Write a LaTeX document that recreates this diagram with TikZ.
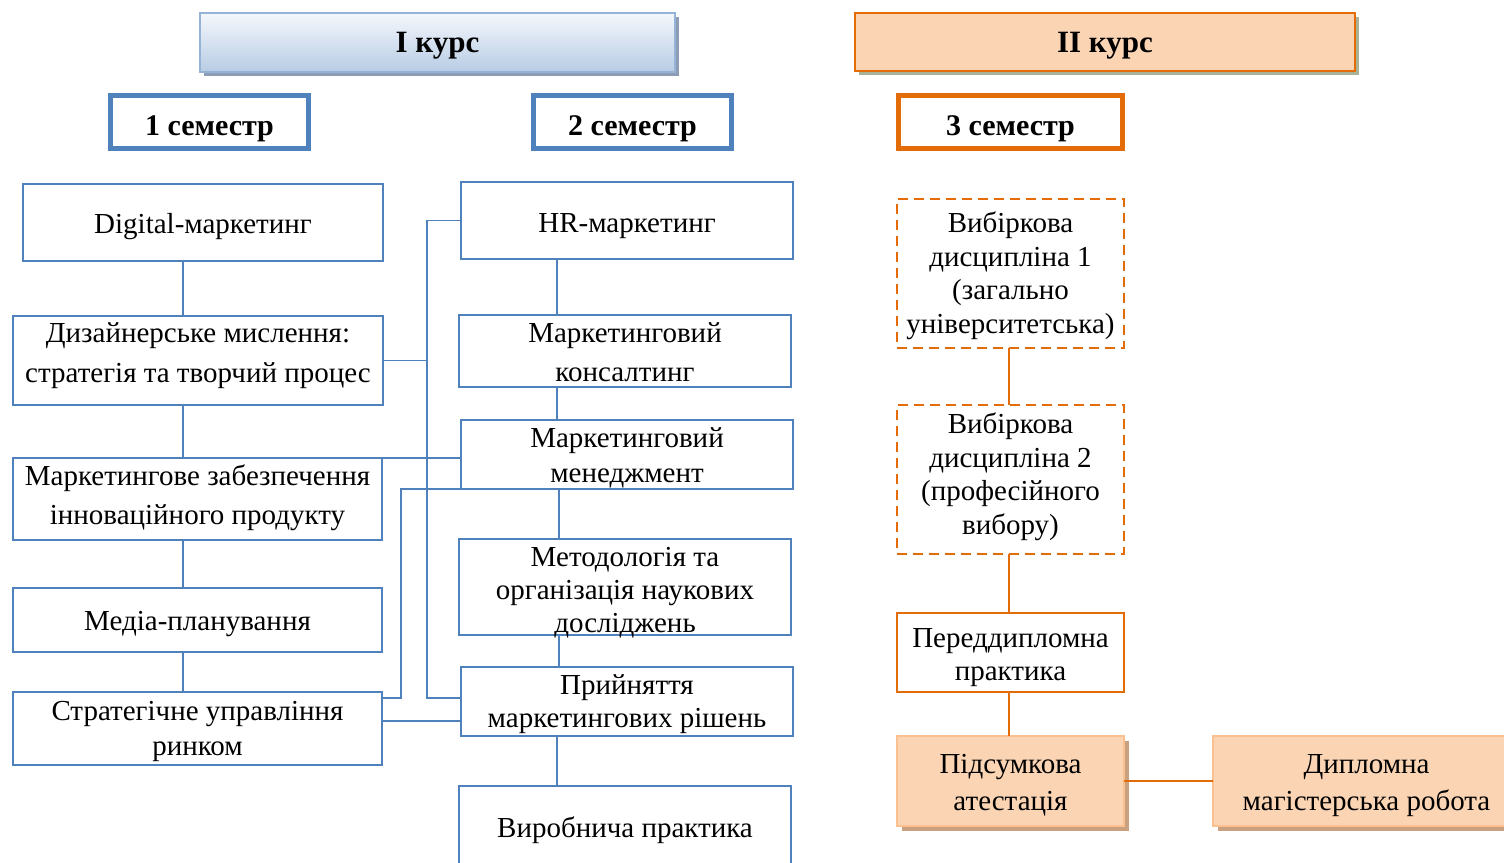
\documentclass[tikz,border=0pt]{standalone}
\usepackage{fontspec}
\setmainfont{Liberation Serif}
\usetikzlibrary{positioning,shadows}

\definecolor{lineblue}{HTML}{4F81BD}
\definecolor{hdrline}{HTML}{95B3D7}
\definecolor{hdrtop}{HTML}{F4F7FC}
\definecolor{hdrbot}{HTML}{B8CCE4}
\definecolor{hdrshade}{HTML}{8C9DB5}
\definecolor{accorange}{HTML}{E36C09}
\definecolor{peach}{HTML}{FBD4B4}
\definecolor{peachline}{HTML}{FAC090}
\definecolor{peachshade}{HTML}{A7B297}
\definecolor{brownshade}{HTML}{C9A17E}

\begin{document}
\begin{tikzpicture}[x=1pt, y=-1pt,
    every node/.style={outer sep=0pt},
    lead/.style={font=\fontsize{29}{#1}\selectfont},
    baseat/.style 2 args={text height=#1, text depth=#2},
    course/.style={draw, line width=2.5pt, inner sep=0pt, font=\fontsize{31}{36}\selectfont\bfseries},
    sem/.style={draw, line width=5pt, inner sep=0pt, baseat={39.5pt}{13.5pt}, font=\fontsize{30}{34}\selectfont\bfseries},
    subj/.style={draw=lineblue, line width=1.6pt, inner sep=0pt, align=center, font=\fontsize{29}{34}\selectfont},
    elect/.style={draw=accorange, line width=2.6pt, dash pattern=on 10pt off 6pt, inner sep=0pt, align=center,
        minimum width=227pt, font=\fontsize{29}{33.5}\selectfont},
    final/.style={draw=peachline, fill=peach, line width=2.5pt, inner sep=0pt, align=center, baseat={74pt}{16pt},
        font=\fontsize{29}{37}\selectfont, general shadow={fill=brownshade, shadow xshift=5pt, shadow yshift=-5pt}},
    link/.style={draw=lineblue, line width=1.8pt},
    olink/.style={draw=accorange, line width=1.2pt}
]
\useasboundingbox (0,0) rectangle (1504,862);

% course headers
\node[course, draw=hdrline, top color=hdrtop, bottom color=hdrbot, minimum width=475pt, baseat={39pt}{20pt},
    general shadow={fill=hdrshade, shadow xshift=4pt, shadow yshift=-4pt}] (kurs1) at (437.5,42.5) {I курс};
\node[course, draw=accorange, fill=peach, minimum width=500pt, baseat={39pt}{19pt},
    general shadow={fill=peachshade, shadow xshift=4pt, shadow yshift=-4pt}] (kurs2) at (1105,42) {II курс};

% semesters
\node[sem, draw=lineblue, minimum width=198pt] (sem1) at (209.5,122) {1 семестр};
\node[sem, draw=lineblue, minimum width=198pt] (sem2) at (632.5,122) {2 семестр};
\node[sem, draw=accorange, minimum width=224pt] (sem3) at (1010.5,122) {3 семестр};

% first semester
\node[subj, minimum width=360pt, baseat={49pt}{28pt}] (digit) at (203,222.5) {Digital-маркетинг};
\node[subj, lead=40, minimum width=370pt, baseat={66pt}{23pt}, below=55pt of digit, xshift=-5pt] (design) {Дизайнерське мислення:\\стратегія та творчий процес};
\node[subj, lead=39, minimum width=369pt, baseat={66pt}{16pt}, below=53pt of design, xshift=-0.5pt] (innov) {Маркетингове забезпечення\\інноваційного продукту};
\node[subj, minimum width=369pt, baseat={42pt}{22pt}, below=48pt of innov] (media) {Медіа-планування};
\node[subj, lead=35, minimum width=369pt, baseat={63pt}{10pt}, below=40pt of media] (strat) {Стратегічне управління\\ринком};

% second semester
\node[subj, minimum width=332pt, baseat={50pt}{27pt}] (hrm) at (627,220.5) {HR-маркетинг};
\node[subj, lead=39, minimum width=332pt, baseat={66pt}{6pt}, below=56pt of hrm, xshift=-2pt] (consult) {Маркетинговий\\консалтинг};
\node[subj, lead=35, minimum width=332pt, baseat={62pt}{7pt}, below=33pt of consult, xshift=2pt] (mgmt) {Маркетинговий\\менеджмент};
\node[subj, lead=33, minimum width=332pt, baseat={93pt}{3pt}, below=50pt of mgmt, xshift=-2pt] (method) {Методологія та\\організація наукових\\досліджень};
\node[subj, lead=33, minimum width=332pt, baseat={60pt}{9pt}, below=32pt of method, xshift=2pt] (decis) {Прийняття\\маркетингових рішень};
\node[subj, minimum width=332pt, baseat={51pt}{33pt}, below=50pt of decis, xshift=-2pt] (prod) {Виробнича практика};

% third semester
\node[elect, baseat={134pt}{15pt}] (elect1) at (1010.5,273.5) {Вибіркова\\дисципліна 1\\(загально\\університетська)};
\node[elect, baseat={129pt}{20pt}, below=57pt of elect1] (elect2) {Вибіркова\\дисципліна 2\\(професійного\\вибору)};
\node[draw=accorange, line width=2.6pt, inner sep=0pt, align=center, minimum width=227pt, baseat={67pt}{12pt},
    lead=33, below=59pt of elect2] (prediplom) {Переддипломна\\практика};
\node[final, minimum width=227pt, below=44pt of prediplom] (attest) {Підсумкова\\атестація};
\node[final, minimum width=307pt, right=89pt of attest] (thesis) {Дипломна\\магістерська робота};

% column connectors
\coordinate (acol) at (183,0);
\coordinate (bcol) at (557,0);
\coordinate (bcolb) at (559,0);
\coordinate (ccol) at (1009,0);
\draw[link] (acol |- digit.south) -- (acol |- design.north);
\draw[link] (acol |- design.south) -- (acol |- innov.north);
\draw[link] (acol |- innov.south) -- (acol |- media.north);
\draw[link] (acol |- media.south) -- (acol |- strat.north);
\draw[link] (bcol |- hrm.south) -- (bcol |- consult.north);
\draw[link] (bcol |- consult.south) -- (bcol |- mgmt.north);
\draw[link] (bcolb |- mgmt.south) -- (bcolb |- method.north);
\draw[link] (bcolb |- method.south) -- (bcolb |- decis.north);
\draw[link] (bcol |- decis.south) -- (bcol |- prod.north);
\draw[olink] (ccol |- elect1.south) -- (ccol |- elect2.north);
\draw[olink] (ccol |- elect2.south) -- (ccol |- prediplom.north);
\draw[olink] (ccol |- prediplom.south) -- (ccol |- attest.north);
\draw[olink] (attest.east) -- (thesis.west);

% links between semesters
\coordinate (hubL) at (427,698);
\coordinate (hubR) at (401,698);
\coordinate (lowL) at (0,721);
\draw[link] (design.east) -- (design.east -| hubL);
\draw[link] (hrm.west) -| (hubL) -- (hubL -| decis.west);
\draw[link] (innov.north east) -- (innov.north east -| mgmt.west);
\draw[link] (mgmt.south west) -| (hubR) -- (hubR -| strat.east);
\draw[link] (lowL -| strat.east) -- (lowL -| decis.west);

\end{tikzpicture}
\end{document}
